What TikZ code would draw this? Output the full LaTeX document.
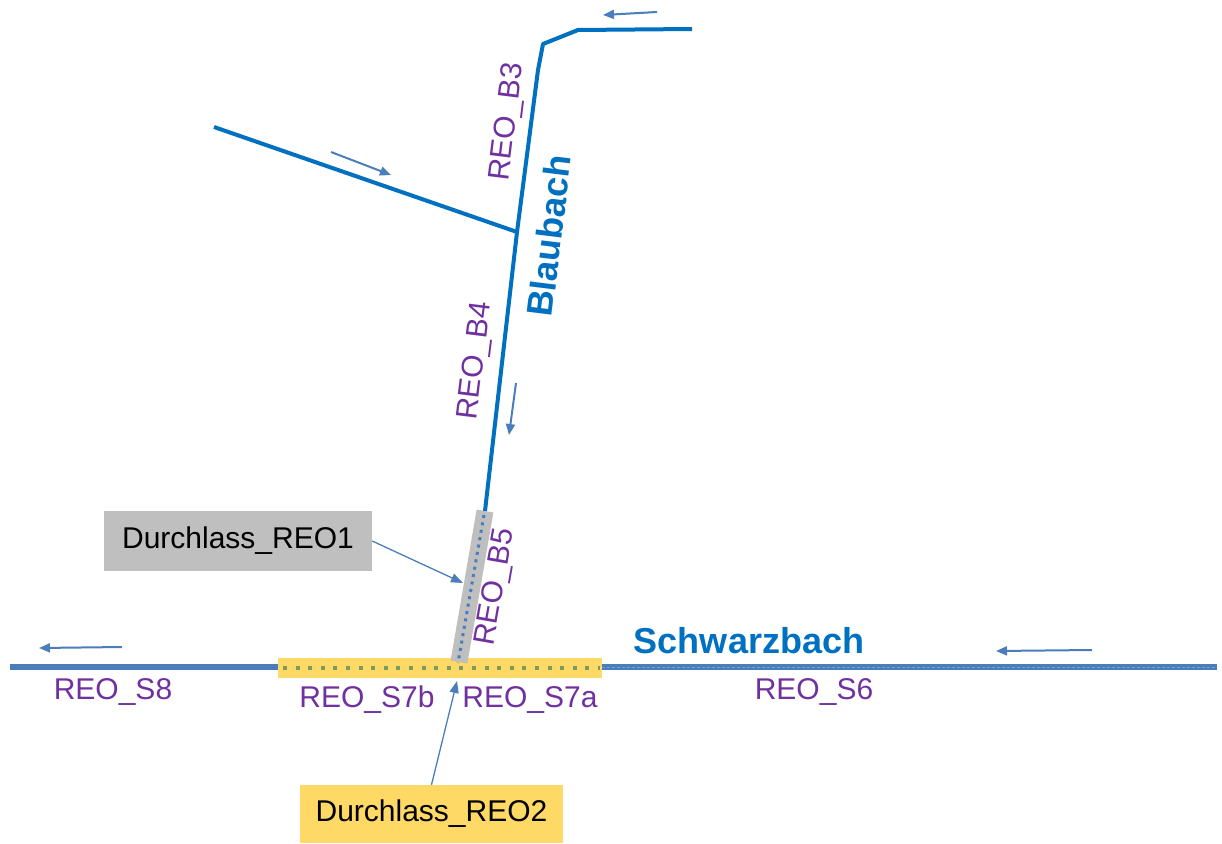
\documentclass[tikz,border=0pt]{standalone}
\usepackage{fontspec}
\setmainfont{Liberation Sans}
\usetikzlibrary{arrows.meta}
\definecolor{riverblue}{HTML}{0070C0}
\definecolor{steel}{HTML}{4A7EBB}
\definecolor{labpurple}{HTML}{7030A0}
\definecolor{culvgray}{HTML}{BFBFBF}
\definecolor{culvyellow}{HTML}{FFD966}
\definecolor{dotgreen}{HTML}{7A9A5E}
\tikzset{
  blau/.style={riverblue, line width=4pt, line join=round},
  schwarz/.style={steel, line width=6pt},
  flowarrow/.style={steel, line width=2pt, -{Triangle[length=11pt,width=9pt]}},
  conn/.style={steel, line width=1.3pt, -{Triangle[length=12pt,width=9pt]}},
  reolabel/.style={labpurple, inner sep=0pt, font=\fontsize{30}{36}\selectfont},
  rivername/.style={riverblue, inner sep=0pt, font=\fontsize{36}{42}\selectfont\bfseries},
  culvbox/.style={inner sep=0pt, font=\fontsize{30}{36}\selectfont, text=black},
}
\begin{document}
\begin{tikzpicture}[x=1pt,y=-1pt]
\useasboundingbox (0,0) rectangle (1222,843);
% coordinates
\coordinate (b0) at (692,29);
\coordinate (b1) at (578,30);
\coordinate (b2) at (543,44);
\coordinate (b3) at (538,70);
\coordinate (jn) at (517,232);
\coordinate (b5top) at (485,511);
\coordinate (b5bot) at (459,662);
\coordinate (trib) at (214,127);
\coordinate (sL) at (10,667);
\coordinate (sA) at (278,667);
\coordinate (sB) at (602,667);
\coordinate (sR) at (1217,667);
% yellow culvert bar
\fill[culvyellow] (278,658) rectangle (602,678);
% gray culvert bar
\draw[culvgray, line width=17pt] (b5top) -- (b5bot);
% Blaubach
\draw[blau] (b0) -- (b1) -- (b2) -- (b3) -- (jn) -- (b5top);
\draw[blau] (trib) -- (jn);
% Schwarzbach
\draw[schwarz] (sL) -- (sA);
\draw[schwarz] (sB) -- (sR);
\draw[white, opacity=0.25, line width=0.8pt, dash pattern=on 3pt off 2pt] (sB) -- (sR);
% dotted lines in culverts
\draw[dotgreen, line width=4pt, dash pattern=on 4pt off 8.6pt] (283,668) -- (600,668);
\draw[steel, line width=3pt, dash pattern=on 3pt off 4.5pt] (484,515) -- (458,663);
% flow arrows
\draw[flowarrow] (657,12) -- (603,15);
\draw[flowarrow] (331,152) -- (391,175);
\draw[flowarrow] (516,383) -- (509,435);
\draw[flowarrow] (122,647) -- (39,648);
\draw[flowarrow] (1092,650) -- (996,651);
% names
\node[rivername, rotate=83] (blaubach) at (549,236) {Blaubach};
\node[rivername] (schwarzbach) at (749,641) {Schwarzbach};
% labels
\node[reolabel, rotate=83] (lb3) at (508,122) {REO\_B3};
\node[reolabel, rotate=83] (lb4) at (476,361) {REO\_B4};
\node[reolabel, rotate=80] (lb5) at (496,587) {REO\_B5};
\node[reolabel] (ls8) at (113,692) {REO\_S8};
\node[reolabel] (ls7b) at (367,700) {REO\_S7b};
\node[reolabel] (ls7a) at (530,700) {REO\_S7a};
\node[reolabel] (ls6) at (814,692) {REO\_S6};
% culvert boxes
\node[culvbox, fill=culvgray, minimum width=268pt, minimum height=60pt] (d1) at (238,541) {Durchlass\_REO1};
\node[culvbox, fill=culvyellow, minimum width=263pt, minimum height=58pt] (d2) at (431.5,814) {Durchlass\_REO2};
\coordinate (t1) at (463,583);
\coordinate (t2) at (457,681);
\draw[conn] (d1.east) -- (t1);
\draw[conn] (d2.north) -- (t2);
\end{tikzpicture}
\end{document}
